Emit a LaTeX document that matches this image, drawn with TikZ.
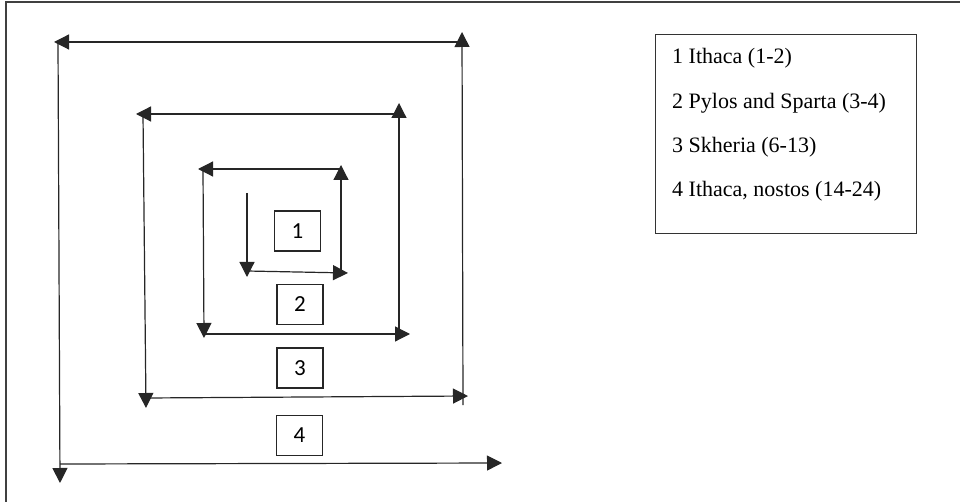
\documentclass[tikz,border=0pt]{standalone}
\usepackage{fontspec}
\setmainfont{Liberation Serif}
\newfontfamily\digitfont{Carlito}
\usetikzlibrary{arrows.meta}

\begin{document}
\begin{tikzpicture}[x=1pt,y=-1pt,
  spiral/.style={line width=1.2pt,draw=black!85,-{Triangle[length=15pt,width=15pt]}},
  numbox/.style={draw=black!85,line width=1.1pt,minimum width=46pt,minimum height=40pt,
    inner sep=0pt,font=\digitfont\fontsize{23}{27}\selectfont},
  legendline/.style={anchor=base west,inner sep=0pt,font=\fontsize{22}{26}\selectfont}]
\useasboundingbox (0,0) rectangle (960,502);

% Frame
\draw[line width=1.2pt,black!75] (6,502) -- (6,2) -- (960,2);

% Corner points of the spiral
\coordinate (s1a) at (247,193);  \coordinate (s1b) at (247,277);
\coordinate (s2a) at (247,271);  \coordinate (s2b) at (348,273);
\coordinate (s3a) at (341,274);  \coordinate (s3b) at (341,165);
\coordinate (s4a) at (341,169);  \coordinate (s4b) at (198,169);
\coordinate (s5a) at (203,169);  \coordinate (s5b) at (204,338);
\coordinate (s6a) at (204,334);  \coordinate (s6b) at (410,334);
\coordinate (s7a) at (399,329);  \coordinate (s7b) at (399,103);
\coordinate (s8a) at (399,114);  \coordinate (s8b) at (136,114);
\coordinate (s9a) at (143,114);  \coordinate (s9b) at (146,408);
\coordinate (s10a) at (146,398); \coordinate (s10b) at (468,396);
\coordinate (s11a) at (463,405); \coordinate (s11b) at (462,32);
\coordinate (s12a) at (462,42);  \coordinate (s12b) at (54,42);
\coordinate (s13a) at (58,42);   \coordinate (s13b) at (60,483);
\coordinate (s14a) at (60,464);  \coordinate (s14b) at (502,463);

% Draw spiral
\draw[spiral] (s1a) -- (s1b);
\draw[spiral] (s2a) -- (s2b);
\draw[spiral] (s3a) -- (s3b);
\draw[spiral] (s4a) -- (s4b);
\draw[spiral] (s5a) -- (s5b);
\draw[spiral] (s6a) -- (s6b);
\draw[spiral] (s7a) -- (s7b);
\draw[spiral] (s8a) -- (s8b);
\draw[spiral] (s9a) -- (s9b);
\draw[spiral] (s10a) -- (s10b);
\draw[spiral] (s11a) -- (s11b);
\draw[spiral] (s12a) -- (s12b);
\draw[spiral] (s13a) -- (s13b);
\draw[spiral] (s14a) -- (s14b);

% Numbered boxes
\node[numbox] (n1) at (297.5,231) {1};
\node[numbox] (n2) at (300,304.5) {2};
\node[numbox] (n3) at (300,368) {3};
\node[numbox] (n4) at (299.5,435.5) {4};

% Legend
\node[draw=black!80,line width=1.3pt,anchor=north west,minimum width=261pt,
  minimum height=199pt,inner sep=0pt] (legend) at (655,34) {};
\node[legendline] (l1) at (672,64) {1 Ithaca (1-2)};
\node[legendline] (l2) at (672,108.5) {2 Pylos and Sparta (3-4)};
\node[legendline] (l3) at (672,153) {3 Skheria (6-13)};
\node[legendline] (l4) at (672,197) {4 Ithaca, nostos (14-24)};
\end{tikzpicture}
\end{document}
